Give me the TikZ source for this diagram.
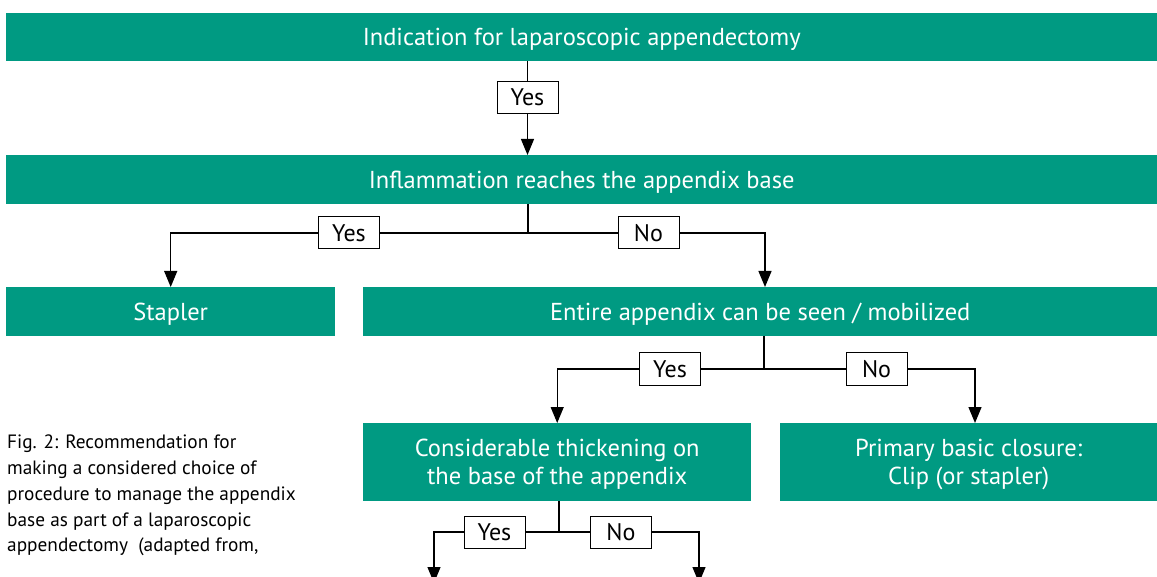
\documentclass[tikz,border=0pt]{standalone}
\usepackage{fontspec}
\setmainfont{PT Sans}
\usetikzlibrary{arrows.meta}
\definecolor{teal1}{RGB}{0,154,130}
\begin{document}
\begin{tikzpicture}[x=1pt,y=-1pt,
  tbox/.style={fill=teal1, text=white, inner sep=0pt, anchor=north west, font=\fontsize{24.5}{28}\selectfont, align=center, text depth=0pt},
  lbl/.style={draw=black, line width=1pt, fill=white, minimum width=61pt, minimum height=32pt, inner sep=0pt, text depth=0pt, font=\fontsize{24}{26}\selectfont},
  conn/.style={line width=1.2pt},
  arr/.style={conn, -{Triangle[width=13pt,length=16pt]}}]
\useasboundingbox (0,0) rectangle (1157,577);
% boxes
\node[tbox, minimum width=1151pt, minimum height=48pt] (ind) at (6,13) {Indication for laparoscopic appendectomy};
\node[tbox, minimum width=1151pt, minimum height=49pt] (infl) at (6,155) {Inflammation reaches the appendix base};
\node[tbox, minimum width=329pt, minimum height=49pt] (stap) at (6,287) {Stapler};
\node[tbox, minimum width=794pt, minimum height=49pt] (ent) at (363,287) {Entire appendix can be seen / mobilized};
\node[tbox, minimum width=388pt, minimum height=78pt] (cons) at (363,423) {Considerable thickening on\\the base of the appendix};
\node[tbox, minimum width=377pt, minimum height=78pt] (prim) at (780,423) {Primary basic closure:\\Clip (or stapler)};
% labels
\node[lbl] (y1) at (527.5,97.5) {Yes};
\node[lbl] (y2) at (349,233) {Yes};
\node[lbl] (n2) at (648.5,233) {No};
\node[lbl] (y3) at (670,369) {Yes};
\node[lbl] (n3) at (876.5,369) {No};
\node[lbl] (y4) at (494.5,532) {Yes};
\node[lbl] (n4) at (621,532) {No};
% helper coordinates
\coordinate (b2) at (528,233);
\coordinate (b3) at (764,369);
\coordinate (b4) at (559,532);
\coordinate (t2) at (765,287);
\coordinate (t3) at (975,423);
\coordinate (e4a) at (434,583);
\coordinate (e4b) at (699,583);
% connectors
\draw[conn] (y1.north |- ind.south) -- (y1.north);
\draw[arr] (y1.south) -- (y1.south |- infl.north);
\draw[conn] (b2 |- infl.south) -- (b2);
\draw[conn] (b2) -- (y2.east);
\draw[conn] (b2) -- (n2.west);
\draw[arr] (y2.west) -| (stap.north);
\draw[arr] (n2.east) -| (t2);
\draw[conn] (b3 |- ent.south) -- (b3);
\draw[conn] (b3) -- (y3.east);
\draw[conn] (b3) -- (n3.west);
\draw[arr] (y3.west) -| (cons.north);
\draw[arr] (n3.east) -| (t3);
\draw[conn] (b4 |- cons.south) -- (b4);
\draw[conn] (b4) -- (y4.east);
\draw[conn] (b4) -- (n4.west);
\draw[arr] (y4.west) -| (e4a);
\draw[arr] (n4.east) -| (e4b);
% caption
\node[anchor=north west, inner sep=0pt, align=left, font=\fontsize{19.3}{25.7}\selectfont] (cap) at (7,435) {Fig. 2: Recommendation for\\making a considered choice of\\procedure to manage the appendix\\base as part of a laparoscopic\\appendectomy\ \ (adapted from,};
\end{tikzpicture}
\end{document}
